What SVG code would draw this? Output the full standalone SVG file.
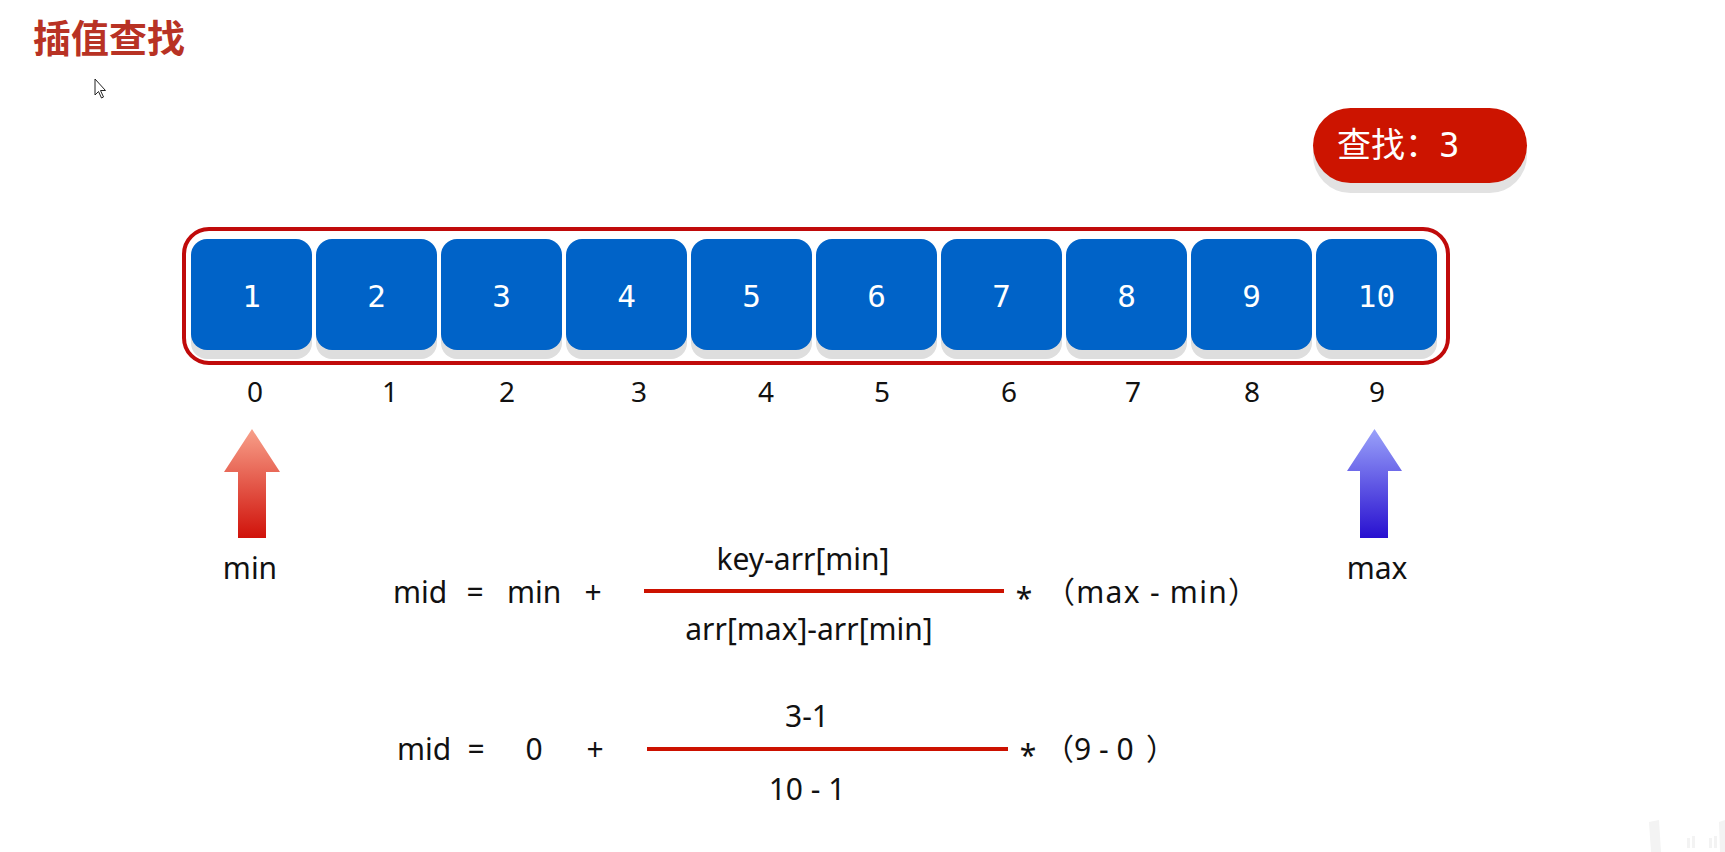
<svg xmlns="http://www.w3.org/2000/svg" width="1725" height="852" viewBox="0 0 1725 852">
  <defs>
    <linearGradient id="gMin" x1="0" y1="0" x2="0" y2="1">
      <stop offset="0" stop-color="#F8A08A"/>
      <stop offset="1" stop-color="#D0120A"/>
    </linearGradient>
    <linearGradient id="gMax" x1="0" y1="0" x2="0" y2="1">
      <stop offset="0" stop-color="#9AA2FA"/>
      <stop offset="1" stop-color="#2810D0"/>
    </linearGradient>
    <style>
      .cell { fill: #0063C8; }
      .shadow { fill: #DEDEDE; }
      .cellTxt { font-family: "DejaVu Sans Mono", monospace; font-size: 31px; fill: #FFFFFF; text-anchor: middle; }
      .idx { font-family: "Noto Sans", "Liberation Sans", sans-serif; font-size: 28px; fill: #111111; text-anchor: middle; }
      .lbl { font-family: "Noto Sans", "Liberation Sans", sans-serif; font-size: 30px; fill: #111111; }
      .mid { text-anchor: middle; }
      .cjk { font-family: "Noto Sans", "Noto Sans CJK SC", sans-serif; font-size: 30px; fill: #111111; }
      .frac { stroke: #CC1100; stroke-width: 4; }
    </style>
  </defs>

  <rect width="1725" height="852" fill="#FFFFFF"/>

  <g id="title">
    <text x="33" y="52" font-family="'Noto Sans CJK SC', sans-serif" font-size="38" font-weight="bold" fill="#B83224">插值查找</text>
  </g>

  <g id="cursor">
    <path d="M95,79 L95,95 L98.5,91.5 L101.5,98 L103.5,97 L100.5,90.5 L105.5,90.5 Z" fill="#FFFFFF" stroke="#222222" stroke-width="1"/>
  </g>

  <g id="search-button">
    <rect x="1313" y="118" width="214" height="75" rx="37.5" fill="#E2E2E2"/>
    <rect x="1313" y="108" width="214" height="75" rx="37.5" fill="#CC1400"/>
    <text x="1337" y="157" font-family="'Noto Sans CJK SC', sans-serif" font-size="34" fill="#FFFFFF">查找：<tspan font-family="'DejaVu Sans Mono', monospace" font-size="34">3</tspan></text>
  </g>

  <g id="array">
    <rect x="184" y="229" width="1264" height="134" rx="25" fill="#FFFFFF" stroke="#C00A0A" stroke-width="4"/>
  </g>

  <g id="cell-0"><rect class="shadow" x="191" y="248" width="121" height="111" rx="16"/><rect class="cell" x="191" y="239" width="121" height="111" rx="16"/><text class="cellTxt" x="251.5" y="307">1</text></g>
  <g id="cell-1"><rect class="shadow" x="316" y="248" width="121" height="111" rx="16"/><rect class="cell" x="316" y="239" width="121" height="111" rx="16"/><text class="cellTxt" x="376.5" y="307">2</text></g>
  <g id="cell-2"><rect class="shadow" x="441" y="248" width="121" height="111" rx="16"/><rect class="cell" x="441" y="239" width="121" height="111" rx="16"/><text class="cellTxt" x="501.5" y="307">3</text></g>
  <g id="cell-3"><rect class="shadow" x="566" y="248" width="121" height="111" rx="16"/><rect class="cell" x="566" y="239" width="121" height="111" rx="16"/><text class="cellTxt" x="626.5" y="307">4</text></g>
  <g id="cell-4"><rect class="shadow" x="691" y="248" width="121" height="111" rx="16"/><rect class="cell" x="691" y="239" width="121" height="111" rx="16"/><text class="cellTxt" x="751.5" y="307">5</text></g>
  <g id="cell-5"><rect class="shadow" x="816" y="248" width="121" height="111" rx="16"/><rect class="cell" x="816" y="239" width="121" height="111" rx="16"/><text class="cellTxt" x="876.5" y="307">6</text></g>
  <g id="cell-6"><rect class="shadow" x="941" y="248" width="121" height="111" rx="16"/><rect class="cell" x="941" y="239" width="121" height="111" rx="16"/><text class="cellTxt" x="1001.5" y="307">7</text></g>
  <g id="cell-7"><rect class="shadow" x="1066" y="248" width="121" height="111" rx="16"/><rect class="cell" x="1066" y="239" width="121" height="111" rx="16"/><text class="cellTxt" x="1126.5" y="307">8</text></g>
  <g id="cell-8"><rect class="shadow" x="1191" y="248" width="121" height="111" rx="16"/><rect class="cell" x="1191" y="239" width="121" height="111" rx="16"/><text class="cellTxt" x="1251.5" y="307">9</text></g>
  <g id="cell-9"><rect class="shadow" x="1316" y="248" width="121" height="111" rx="16"/><rect class="cell" x="1316" y="239" width="121" height="111" rx="16"/><text class="cellTxt" x="1376.5" y="307">10</text></g>

  <g id="indices">
    <text class="idx" x="255" y="402">0</text>
    <text class="idx" x="390" y="402">1</text>
    <text class="idx" x="507" y="402">2</text>
    <text class="idx" x="639" y="402">3</text>
    <text class="idx" x="766" y="402">4</text>
    <text class="idx" x="882" y="402">5</text>
    <text class="idx" x="1009" y="402">6</text>
    <text class="idx" x="1133" y="402">7</text>
    <text class="idx" x="1252" y="402">8</text>
    <text class="idx" x="1377" y="402">9</text>
  </g>

  <g id="min-pointer">
    <polygon points="252,429 280,472 266,472 266,538 238,538 238,472 224,472" fill="url(#gMin)"/>
    <text class="lbl mid" x="250" y="579">min</text>
  </g>

  <g id="max-pointer">
    <polygon points="1374.5,429 1402,471 1388,471 1388,538 1360,538 1360,471 1347,471" fill="url(#gMax)"/>
    <text class="lbl mid" x="1377" y="579">max</text>
  </g>

  <g id="formula-general">
    <text class="lbl" x="393" y="603">mid</text>
    <text class="lbl mid" x="475" y="603">=</text>
    <text class="lbl" x="507" y="603">min</text>
    <text class="lbl mid" x="593" y="603">+</text>
    <line class="frac" x1="644" y1="591" x2="1004" y2="591"/>
    <text class="lbl mid" x="803" y="570">key-arr[min]</text>
    <text class="lbl mid" x="809" y="640">arr[max]-arr[min]</text>
    <text class="lbl mid" x="1024" y="609" font-size="28">*</text>
    <text class="cjk" x="1045" y="603" textLength="213" lengthAdjust="spacing">（max - min）</text>
  </g>

  <g id="formula-values">
    <text class="lbl" x="397" y="760">mid</text>
    <text class="lbl mid" x="476" y="760">=</text>
    <text class="lbl mid" x="534" y="760">0</text>
    <text class="lbl mid" x="595" y="760">+</text>
    <line class="frac" x1="647" y1="749" x2="1008" y2="749"/>
    <text class="lbl mid" x="807" y="727">3-1</text>
    <text class="lbl mid" x="807" y="800">10 - 1</text>
    <text class="lbl mid" x="1028" y="766" font-size="28">*</text>
    <text class="cjk" x="1044" y="760">（9 - 0<tspan x="1146">）</tspan></text>
  </g>

  <g id="watermark" fill="#F3F3F3">
    <polygon points="1649,822 1659,820 1661,852 1651,852"/>
    <rect x="1687" y="838" width="3" height="10"/>
    <rect x="1692" y="836" width="3" height="12"/>
    <rect x="1709" y="838" width="3" height="10"/>
    <rect x="1714" y="836" width="3" height="12"/>
    <polygon points="1719,822 1725,820 1725,852 1720,852"/>
  </g>
</svg>
